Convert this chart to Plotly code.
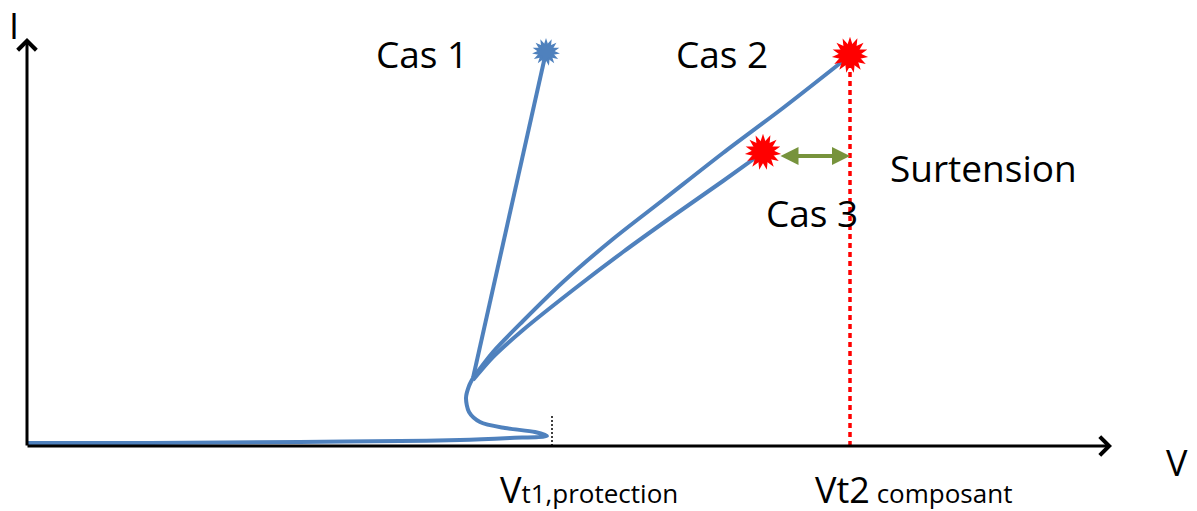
import plotly.graph_objects as go

# ---- data (V, I in arbitrary units; origin at axes crossing) ----
snap_V = [0, 123, 273, 373, 433, 483, 520, 508, 478, 453, 442, 439, 442, 446]
snap_I = [3, 3, 4, 5, 6, 8, 10, 14, 18, 24, 34, 48, 60, 68]

cas1_V = [446, 519]
cas1_I = [68, 394]

cas2_V = [446, 466, 496, 536, 586, 636, 696, 756, 821]
cas2_I = [68, 94, 125, 164, 207, 246, 293, 338, 389]

cas3_V = [446, 466, 496, 546, 596, 646, 696, 735]
cas3_I = [66, 89, 116, 156, 194, 230, 265, 293]

fail_blue = (519, 394)
fail_red = [(823, 391), (736, 294)]

vt1 = 525
vt2 = 823
vt1_mark_top = 30
overvolt_I = 290
overvolt_from = 752

labels = [
    ("Cas 1", 395, 393),
    ("Cas 2", 695, 393),
    ("Surtension", 956, 279),
    ("Cas 3", 785, 234),
]

BLUE = "#4F81BD"
RED = "#FF0000"
GREEN = "#77933C"
FONT = "Open Sans"

fig = go.Figure()

# reference dotted lines
fig.add_trace(go.Scatter(x=[vt2, vt2], y=[0, fail_red[0][1]], mode="lines",
                         line=dict(color=RED, width=3.5, dash="5px,4px"),
                         hoverinfo="skip", showlegend=False))
fig.add_trace(go.Scatter(x=[vt1, vt1], y=[0, vt1_mark_top], mode="lines",
                         line=dict(color="black", width=1.5, dash="2px,2px"),
                         hoverinfo="skip", showlegend=False))

# curves
for xs, ys in [(snap_V, snap_I), (cas1_V, cas1_I), (cas2_V, cas2_I), (cas3_V, cas3_I)]:
    fig.add_trace(go.Scatter(x=xs, y=ys, mode="lines",
                             line=dict(color=BLUE, width=4, shape="spline", smoothing=0.8),
                             hoverinfo="skip", showlegend=False))

# burst markers (rotated stars overlaid)
for ang in [0, 24, 48]:
    fig.add_trace(go.Scatter(x=[fail_blue[0]], y=[fail_blue[1]], mode="markers",
                             marker=dict(symbol="star", size=20, angle=ang, color=BLUE,
                                         line=dict(width=0)),
                             hoverinfo="skip", showlegend=False))
    fig.add_trace(go.Scatter(x=[p[0] for p in fail_red], y=[p[1] for p in fail_red],
                             mode="markers",
                             marker=dict(symbol="star", size=26, angle=ang, color=RED,
                                         line=dict(width=0)),
                             hoverinfo="skip", showlegend=False))

annotations = []
# axes with arrows
annotations.append(dict(x=0, y=408, ax=0, ay=-1, xref="x", yref="y", axref="x", ayref="y",
                        text="", showarrow=True, arrowhead=4, arrowsize=1.2, arrowwidth=3,
                        arrowcolor="black", standoff=0, startstandoff=0))
annotations.append(dict(x=1085, y=0, ax=-1, ay=0, xref="x", yref="y", axref="x", ayref="y",
                        text="", showarrow=True, arrowhead=4, arrowsize=1.2, arrowwidth=3,
                        arrowcolor="black", standoff=0, startstandoff=0))
# overvoltage double arrow
annotations.append(dict(x=vt2, y=overvolt_I, ax=overvolt_from, ay=overvolt_I,
                        xref="x", yref="y", axref="x", ayref="y",
                        text="", showarrow=True, arrowhead=2, startarrowhead=2,
                        arrowside="end+start", arrowsize=0.9, startarrowsize=0.9,
                        arrowwidth=4, arrowcolor=GREEN, standoff=0, startstandoff=0))

for txt, x, y in labels:
    annotations.append(dict(x=x, y=y, xref="x", yref="y", text=txt, showarrow=False,
                            font=dict(family=FONT, size=37, color="black"),
                            xanchor="center", yanchor="middle"))

annotations.append(dict(x=-13, y=421, xref="x", yref="y", text="I", showarrow=False,
                        font=dict(family=FONT, size=36, color="black"),
                        xanchor="center", yanchor="middle"))
annotations.append(dict(x=1150, y=-16, xref="x", yref="y", text="V", showarrow=False,
                        font=dict(family=FONT, size=36, color="black"),
                        xanchor="center", yanchor="middle"))
annotations.append(dict(x=471, y=-43, xref="x", yref="y",
                        text="V<span style='font-size:26px'>t1,protection</span>",
                        showarrow=False, font=dict(family=FONT, size=36, color="black"),
                        xanchor="left", yanchor="middle"))
annotations.append(dict(x=786, y=-43, xref="x", yref="y",
                        text="Vt2<span style='font-size:26px'> composant</span>",
                        showarrow=False, font=dict(family=FONT, size=36, color="black"),
                        xanchor="left", yanchor="middle"))

fig.update_layout(
    width=1197, height=511,
    margin=dict(l=0, r=0, t=0, b=0),
    paper_bgcolor="white", plot_bgcolor="white",
    xaxis=dict(range=[-27, 1170], visible=False, fixedrange=True),
    yaxis=dict(range=[-65, 446], visible=False, fixedrange=True),
    annotations=annotations,
    showlegend=False,
)

fig.write_html("out.html", config={"displayModeBar": False},
               post_script="document.body.style.margin='0px';document.body.style.overflow='hidden';")
